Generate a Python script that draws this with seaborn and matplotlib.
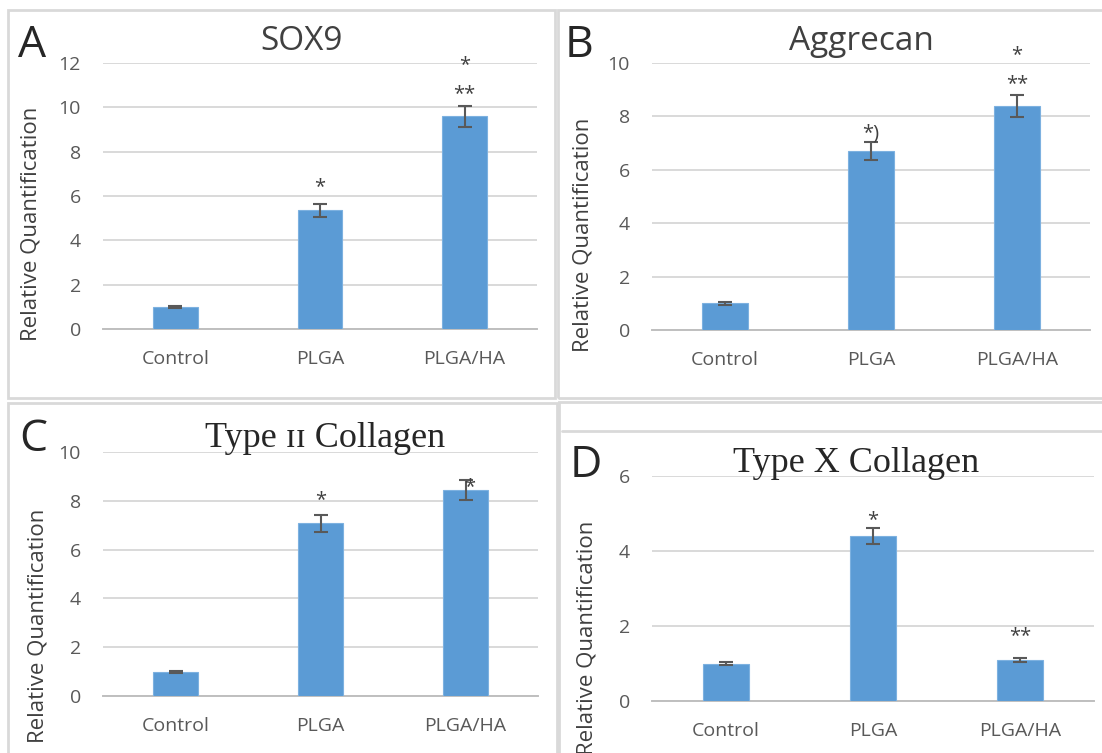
import matplotlib
matplotlib.use("Agg")
import matplotlib.pyplot as plt
from matplotlib.patches import Rectangle
from matplotlib.lines import Line2D
import pandas as pd
import seaborn as sns

W, H = 1102, 753

groups = ["Control", "PLGA", "PLGA/HA"]

# SOX9
sox9_mean = [1.0, 5.35, 9.6]
sox9_err = [0.05, 0.28, 0.48]
sox9_marks = [[], ["*"], ["**", "*"]]
sox9_mark_y = [[], [6.7], [10.9, 12.2]]

# Aggrecan
aggrecan_mean = [1.0, 6.7, 8.4]
aggrecan_err = [0.05, 0.35, 0.42]
aggrecan_marks = [[], ["*)"], ["**", "*"]]
aggrecan_mark_y = [[], [7.6], [9.45, 10.55]]

# Type II collagen
col2_mean = [1.0, 7.07, 8.45]
col2_err = [0.04, 0.36, 0.42]
col2_marks = [[], ["*"], ["*"]]
col2_mark_y = [[], [8.3], [8.85]]

# Type X collagen
col10_mean = [1.0, 4.4, 1.1]
col10_err = [0.05, 0.22, 0.06]
col10_marks = [[], ["*"], ["**"]]
col10_mark_y = [[], [5.0], [1.9]]

BAR = "#5B9BD5"
ERR = "#595959"
GRID = "#D9D9D9"
TXT = "#595959"
SANS = ["Open Sans", "DejaVu Sans"]
SERIF = ["Liberation Serif", "DejaVu Serif"]
STAR_SIZE = 14.5


def px(x, y):
    """Pixel position (from top-left) to figure fraction."""
    return x / W, 1 - y / H


def axes_rect(x0, x1, y_top, y_bottom):
    return [x0 / W, 1 - y_bottom / H, (x1 - x0) / W, (y_bottom - y_top) / H]


def draw_panel(fig, rect, means, errs, ymax, marks, mark_y, mark_dx=None):
    ax = fig.add_axes(rect)
    df = pd.DataFrame({"group": groups, "value": means})
    sns.barplot(data=df, x="group", y="value", color=BAR, saturation=1,
                width=0.31, edgecolor="#7DB1E0", linewidth=0.8,
                errorbar=None, ax=ax, zorder=3)
    ax.errorbar(range(len(groups)), means, yerr=errs, fmt="none", ecolor=ERR,
                elinewidth=1.5, capsize=5, capthick=1.5, zorder=4)
    ax.set_xlim(-0.5, len(groups) - 0.5)
    ax.set_ylim(0, ymax)
    ax.set_yticks(range(0, ymax + 1, 2))
    ax.set_xlabel("")
    ax.set_ylabel("")
    ax.yaxis.grid(True, color=GRID, linewidth=1.4, zorder=0)
    ax.set_axisbelow(True)
    for side in ["top", "right", "left"]:
        ax.spines[side].set_visible(False)
    ax.spines["bottom"].set_color("#BFBFBF")
    ax.spines["bottom"].set_linewidth(1.4)
    ax.set_xticks([i - 0.5 for i in range(len(groups) + 1)], minor=True)
    ax.tick_params(axis="x", which="minor", length=6, width=1.2, color="#BFBFBF")
    ax.tick_params(axis="x", which="major", length=0, pad=15, labelsize=14, labelcolor=TXT)
    ax.tick_params(axis="y", length=0, pad=16, labelsize=14, labelcolor=TXT)
    for lab in ax.get_xticklabels() + ax.get_yticklabels():
        lab.set_family(SANS)
    for i, (labels, ys) in enumerate(zip(marks, mark_y)):
        for s, y in zip(labels, ys):
            dx = 0.03 if (mark_dx and i == mark_dx) else 0
            # asterisk glyph sits high in the line, shift baseline so its centre is at y
            ax.annotate(s, (i + dx, y), xytext=(0, -0.58 * STAR_SIZE),
                        textcoords="offset points", ha="center", va="baseline",
                        fontsize=STAR_SIZE, color="#404040", family=SANS,
                        annotation_clip=False, zorder=5)
    return ax


def main() -> None:
    sns.set_style("white")
    plt.rcParams["font.family"] = SANS
    fig = plt.figure(figsize=(W / 100, H / 100), dpi=100)

    # panel frames
    frame = dict(fill=False, edgecolor=GRID, linewidth=2, transform=fig.transFigure)
    for x0, y0, x1, y1 in [(8, 10, 555, 398), (558, 10, 1115, 398),
                           (8, 403, 557, 770), (559, 402, 1115, 770)]:
        fig.patches.append(Rectangle(px(x0, y1), (x1 - x0) / W, (y1 - y0) / H, **frame))
    fig.lines.append(Line2D([562 / W, 1.0], [1 - 431 / H, 1 - 431 / H],
                            color=GRID, linewidth=2, transform=fig.transFigure))

    draw_panel(fig, axes_rect(103, 537, 63, 329), sox9_mean, sox9_err, 12,
               sox9_marks, sox9_mark_y)
    draw_panel(fig, axes_rect(652, 1090, 63, 330), aggrecan_mean, aggrecan_err, 10,
               aggrecan_marks, aggrecan_mark_y)
    draw_panel(fig, axes_rect(103, 538, 452, 696), col2_mean, col2_err, 10,
               col2_marks, col2_mark_y, mark_dx=2)
    draw_panel(fig, axes_rect(652, 1094, 476, 701), col10_mean, col10_err, 6,
               col10_marks, col10_mark_y)

    # titles
    fig.text(*px(302, 42), "SOX9", ha="center", va="center", fontsize=24,
             color="#404040", family=SANS)
    fig.text(*px(861, 42), "Aggrecan", ha="center", va="center", fontsize=24,
             color="#404040", family=SANS)
    fig.text(*px(325, 438), "Type \u026a\u026a Collagen", ha="center", va="center",
             fontsize=26, color="#262626", family=SERIF)
    fig.text(*px(856, 464), "Type X Collagen", ha="center", va="center",
             fontsize=26, color="#262626", family=SERIF)

    # panel letters
    for letter, (x, y) in zip("ABCD", [(32, 46), (579, 46), (33, 440), (586, 466)]):
        fig.text(*px(x, y), letter, ha="center", va="center", fontsize=32,
                 color="#262626", family=SANS)

    # y labels
    for x, y in [(31, 224), (583, 235), (38, 626), (587, 638)]:
        fig.text(*px(x, y), "Relative Quantification", rotation=90, ha="center",
                 va="center", fontsize=16, color="#404040", family=SANS)

    fig.savefig("out.png", dpi=100)
    plt.close(fig)


if __name__ == "__main__":
    main()
